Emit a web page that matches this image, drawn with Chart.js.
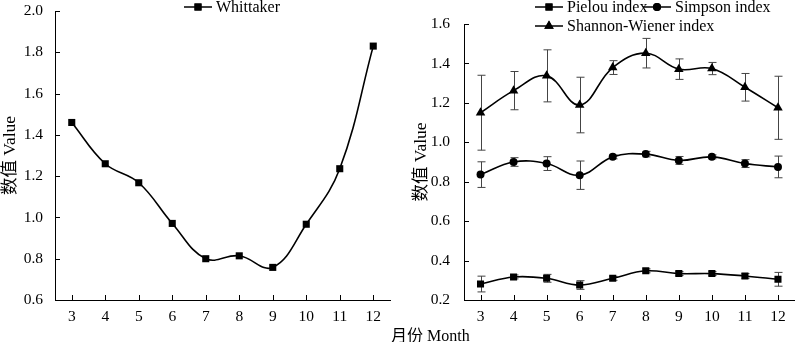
<!DOCTYPE html>
<html>
<head>
<meta charset="utf-8">
<script src="https://cdn.jsdelivr.net/npm/chart.js@4.4.1/dist/chart.umd.min.js"></script>
<style>
  html, body { margin: 0; padding: 0; background: #fff; }
  #wrap { position: relative; width: 800px; height: 342px; overflow: hidden; }
  canvas { position: absolute; top: 0; }
  #leftChart { left: 0; }
  #rightChart { left: 400px; }
  #xTitle {
    position: absolute; left: 391px; top: 322px;
    font: 16px "Liberation Serif", "Noto Sans CJK SC", serif; color: #000; white-space: nowrap;
  }
</style>
</head>
<body>
<div id="wrap">
  <canvas id="leftChart" width="400" height="342"></canvas>
  <canvas id="rightChart" width="400" height="342"></canvas>
  <div id="xTitle">月份 Month</div>
</div>
<script>
// months on the x axis
const months = ['3', '4', '5', '6', '7', '8', '9', '10', '11', '12'];

// Whittaker beta diversity
const whittaker = [1.46, 1.26, 1.168, 0.971, 0.80, 0.814, 0.758, 0.967, 1.236, 1.83];

// alpha diversity indices (mean, error)
const pielou     = [0.281, 0.317, 0.310, 0.276, 0.310, 0.348, 0.334, 0.334, 0.322, 0.305];
const pielouErr  = [0.040, 0.010, 0.020, 0.022, 0.010, 0.010, 0.010, 0.010, 0.012, 0.035];
const simpson    = [0.836, 0.900, 0.892, 0.833, 0.926, 0.940, 0.908, 0.926, 0.892, 0.875];
const simpsonErr = [0.065, 0.022, 0.035, 0.072, 0.010, 0.014, 0.020, 0.010, 0.020, 0.055];
const shannon    = [1.150, 1.262, 1.337, 1.189, 1.379, 1.452, 1.371, 1.374, 1.279, 1.175];
const shannonErr = [0.190, 0.097, 0.132, 0.141, 0.035, 0.075, 0.052, 0.031, 0.070, 0.160];

const FONT = '"Liberation Serif", "Noto Sans CJK SC", serif';

// inward tick marks on both axes
const innerTicks = {
  id: 'innerTicks',
  afterDraw(chart) {
    const { ctx, chartArea: a, scales: { x, y } } = chart;
    ctx.save();
    ctx.strokeStyle = '#000';
    ctx.lineWidth = 1;
    ctx.beginPath();
    months.forEach((m, i) => {
      const px = Math.round(x.getPixelForValue(i)) + 0.5;
      ctx.moveTo(px, a.bottom);
      ctx.lineTo(px, a.bottom - 5);
    });
    y.ticks.forEach(t => {
      const py = Math.round(y.getPixelForValue(t.value)) + 0.5;
      ctx.moveTo(a.left, py);
      ctx.lineTo(a.left + 5, py);
    });
    ctx.stroke();
    ctx.restore();
  }
};

// vertical error bars with caps
const errorBars = {
  id: 'errorBars',
  beforeDatasetsDraw(chart) {
    const { ctx, scales: { x, y } } = chart;
    ctx.save();
    ctx.strokeStyle = '#444';
    ctx.lineWidth = 1;
    chart.data.datasets.forEach(ds => {
      if (!ds.errors) return;
      ds.data.forEach((v, i) => {
        const px = Math.round(x.getPixelForValue(i)) + 0.5;
        const top = y.getPixelForValue(v + ds.errors[i]);
        const bot = y.getPixelForValue(v - ds.errors[i]);
        ctx.beginPath();
        ctx.moveTo(px, top); ctx.lineTo(px, bot);
        ctx.moveTo(px - 4, top); ctx.lineTo(px + 4, top);
        ctx.moveTo(px - 4, bot); ctx.lineTo(px + 4, bot);
        ctx.stroke();
      });
    });
    ctx.restore();
  }
};

// legend: short line with marker, then label
const lineLegend = {
  id: 'lineLegend',
  afterDraw(chart, args, opts) {
    const { ctx } = chart;
    ctx.save();
    ctx.font = '16px ' + FONT;
    ctx.textBaseline = 'middle';
    ctx.fillStyle = '#000';
    opts.items.forEach(it => {
      const ds = chart.data.datasets[it.ds];
      ctx.strokeStyle = '#000';
      ctx.lineWidth = 1.5;
      ctx.beginPath();
      ctx.moveTo(it.x, it.y);
      ctx.lineTo(it.x + 28, it.y);
      ctx.stroke();
      Chart.helpers.drawPoint(ctx, {
        pointStyle: ds.pointStyle, radius: ds.pointRadius, rotation: 0, borderWidth: 0
      }, it.x + 14, it.y);
      ctx.fillStyle = '#000';
      ctx.fill();
      ctx.fillText(ds.label, it.x + 32, it.y + 1);
    });
    ctx.restore();
  }
};

function lineSet(label, data, style, r, errors) {
  return {
    label, data, errors,
    borderColor: '#000', backgroundColor: '#000',
    borderWidth: 1.6, tension: 0.4,
    pointStyle: style, pointRadius: r, pointBorderWidth: 0,
    pointBackgroundColor: '#000'
  };
}

function baseOptions(yMin, yMax, yWidth, tickPad, titlePad, legendItems) {
  return {
    responsive: false,
    animation: false,
    layout: { padding: { top: 0, right: 0, bottom: 0, left: 0 } },
    plugins: {
      legend: { display: false },
      tooltip: { enabled: false },
      lineLegend: { items: legendItems }
    },
    scales: {
      x: {
        type: 'category', offset: true,
        grid: { display: false },
        border: { color: '#000', width: 1 },
        ticks: { color: '#000', font: { family: FONT, size: 15.5 }, padding: 0, maxRotation: 0 },
        afterFit: s => { s.height = 42; }
      },
      y: {
        min: yMin, max: yMax,
        grid: { display: false },
        border: { color: '#000', width: 1 },
        ticks: {
          stepSize: 0.2, color: '#000', padding: tickPad,
          font: { family: FONT, size: 15.5 },
          callback: v => v.toFixed(1)
        },
        title: {
          display: true, text: '数值 Value', color: '#000',
          font: { family: FONT, size: 17.5 },
          padding: { top: titlePad, bottom: 0 }
        },
        afterFit: s => { s.width = yWidth; s.paddingTop = 0; s.paddingBottom = 0; }
      }
    }
  };
}

const leftOpts = baseOptions(0.6, 2.0, 55, 4, 0,
  [{ ds: 0, x: 184, y: 7 }]);
leftOpts.layout.padding = { top: 11, right: 10, bottom: 0, left: 0 };

new Chart(document.getElementById('leftChart'), {
  type: 'line',
  data: {
    labels: months,
    datasets: [lineSet('Whittaker', whittaker, 'rect', 5)]
  },
  options: leftOpts,
  plugins: [innerTicks, errorBars, lineLegend]
});

const rightOpts = baseOptions(0.2, 1.6, 64, 6, 11,
  [{ ds: 0, x: 535, y: 7 }, { ds: 1, x: 643, y: 7 }, { ds: 2, x: 535, y: 26 }]
    .map(it => ({ ...it, x: it.x - 400 })));
rightOpts.layout.padding = { top: 24, right: 0, bottom: 0, left: 0 };

new Chart(document.getElementById('rightChart'), {
  type: 'line',
  data: {
    labels: months,
    datasets: [
      lineSet('Pielou index', pielou, 'rect', 5, pielouErr),
      lineSet('Simpson index', simpson, 'circle', 4, simpsonErr),
      lineSet('Shannon-Wiener index', shannon, 'triangle', 5.5, shannonErr)
    ]
  },
  options: rightOpts,
  plugins: [innerTicks, errorBars, lineLegend]
});
</script>
</body>
</html>
